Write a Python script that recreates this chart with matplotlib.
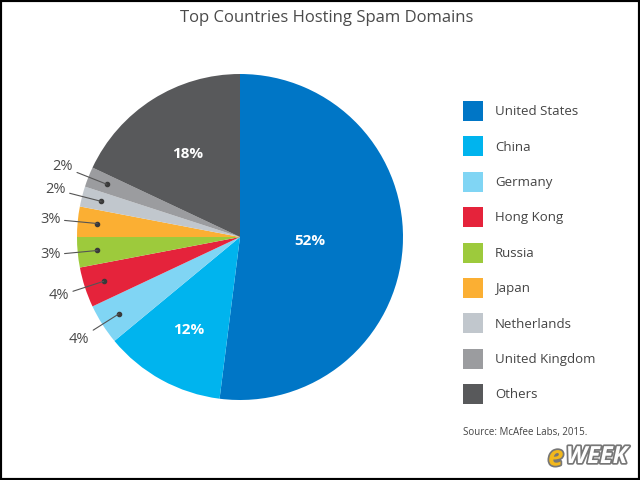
import numpy as np
import matplotlib.pyplot as plt
import matplotlib.patheffects as pe
from matplotlib.patches import Rectangle

plt.rcParams['font.family'] = ['Open Sans', 'DejaVu Sans']

countries = ['United States', 'China', 'Germany', 'Hong Kong', 'Russia',
             'Japan', 'Netherlands', 'United Kingdom', 'Others']
shares = [52, 12, 4, 4, 3, 3, 2, 2, 18]
colors = ['#0076c6', '#00b4ee', '#80d5f4', '#e5233b', '#9dca3c',
          '#fbaf33', '#c1c7cd', '#9b9c9f', '#58595b']
inside = {'United States': 0.43, 'China': 0.65, 'Others': 0.6}

fig = plt.figure(figsize=(6.4, 4.8), dpi=100)
fig.patch.set_facecolor('white')

# pie box: x 78..403, y 75..400 px
ax = fig.add_axes([77 / 640, 80 / 480, 326 / 640, 326 / 480])
wedges, _ = ax.pie(shares, colors=colors, startangle=90, counterclock=False,
                   radius=1, wedgeprops=dict(linewidth=0))
ax.set_xlim(-1, 1)
ax.set_ylim(-1, 1)
ax.set_aspect('equal')
ax.axis('off')

for w, name, val in zip(wedges, countries, shares):
    mid = np.deg2rad((w.theta1 + w.theta2) / 2)
    if name in inside:
        r = inside[name]
        ax.text(r * np.cos(mid), r * np.sin(mid), f'{val}%', color='white',
                fontsize=11, fontweight='bold', ha='center', va='center')
    else:
        dx, dy = 0.88 * np.cos(mid), 0.88 * np.sin(mid)
        ax.plot(dx, dy, 'o', color='#3a3a3a', markersize=3, clip_on=False)
        ax.annotate(f'{val}%', xy=(dx, dy),
                    xytext=(1.17 * np.cos(mid), 1.17 * np.sin(mid)),
                    ha='center', va='center', fontsize=10.5, color='#4a4a4a',
                    arrowprops=dict(arrowstyle='-', color='#555555', lw=0.8,
                                    shrinkA=1, shrinkB=0),
                    annotation_clip=False)

fig.text(0.51, 1 - 18 / 480, 'Top Countries Hosting Spam Domains',
         ha='center', va='center', fontsize=12, color='#4a4a4a')

fs = 9.5
fig.legend(wedges, countries, loc='upper left',
           bbox_to_anchor=(463 / 640, 1 - 101 / 480), frameon=False,
           borderpad=0, borderaxespad=0, fontsize=fs,
           handlelength=1.52, handleheight=1.95, handletextpad=0.9,
           labelspacing=1.17, labelcolor='#444444')

fig.text(463 / 640, 1 - 432 / 480, 'Source: McAfee Labs, 2015.',
         ha='left', va='center', fontsize=7, color='#444444')

# eWEEK watermark
logo = [pe.withStroke(linewidth=2.5, foreground='#777777')]
fig.text(548 / 640, 1 - 458 / 480, 'e', ha='left', va='center',
         fontsize=20, fontweight='bold', style='italic', color='#f2b81c',
         path_effects=logo)
fig.text(566 / 640, 1 - 457 / 480, 'WEEK', ha='left', va='center',
         fontsize=17, fontweight='bold', style='italic', color='white',
         path_effects=logo)

fig.patches.append(Rectangle((0, 0), 1, 1, transform=fig.transFigure,
                             fill=False, edgecolor='black', linewidth=3))

fig.savefig('out.png', dpi=100)
